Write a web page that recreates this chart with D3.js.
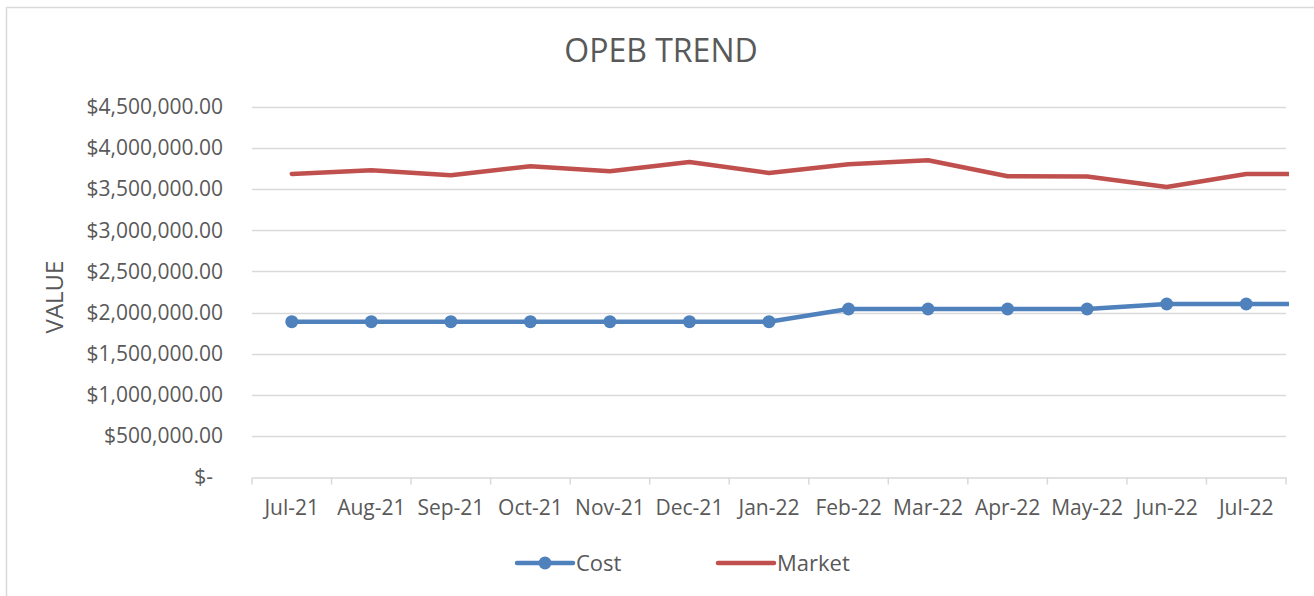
<!DOCTYPE html>
<html>
<head>
<meta charset="utf-8">
<script src="https://cdn.jsdelivr.net/npm/d3@7.9.0/dist/d3.min.js"></script>
<style>
  body { margin: 0; background: #fff; }
  svg { display: block; }
  svg text { font-family: "Open Sans", "Liberation Sans", sans-serif; }
  .tick text { fill: #595959; }
</style>
</head>
<body>
<svg id="chart" width="1314" height="596"></svg>
<script>
// -------------------------
// Data
// -------------------------
const months = ['Jul-21', 'Aug-21', 'Sep-21', 'Oct-21', 'Nov-21', 'Dec-21', 'Jan-22',
  'Feb-22', 'Mar-22', 'Apr-22', 'May-22', 'Jun-22', 'Jul-22'];
// the series run one month past the visible axis (cut off at the plot edge)
const extraMonth = 'Aug-22';
const cost = [1889000, 1889000, 1889000, 1889000, 1889000, 1889000, 1889000,
  2043000, 2043000, 2043000, 2043000, 2104000, 2104000, 2104000];
const market = [3686000, 3731000, 3670000, 3780000, 3719000, 3832000, 3698000,
  3804000, 3852000, 3658000, 3655000, 3528000, 3686000, 3686000];
const yTicks = [0, 500000, 1000000, 1500000, 2000000, 2500000, 3000000, 3500000, 4000000, 4500000];

const blue = '#4f81bd';
const red = '#c0504d';
const grey = '#595959';
const gridColor = '#d9d9d9';

// -------------------------
// Layout
// -------------------------
const svg = d3.select('#chart');
const plotLeft = 252, plotRight = 1286, plotTop = 107, plotBottom = 477;
const step = (plotRight - plotLeft) / months.length;

const allMonths = months.concat([extraMonth]);
const x = d3.scaleBand()
  .domain(allMonths)
  .range([plotLeft, plotLeft + step * allMonths.length]);
const xc = (m) => x(m) + x.bandwidth() / 2;

const y = d3.scaleLinear().domain([0, 4500000]).range([plotBottom, plotTop]);

// chart border (right/bottom cropped)
svg.append('rect')
  .attr('x', 6.5).attr('y', 7.5)
  .attr('width', 1400).attr('height', 700)
  .attr('fill', 'none').attr('stroke', gridColor).attr('stroke-width', 1.5);

// title
svg.append('text')
  .attr('x', 661).attr('y', 62)
  .attr('text-anchor', 'middle')
  .attr('fill', grey)
  .style('font-size', '32px')
  .text('OPEB TREND');

// gridlines
svg.append('g')
  .selectAll('line')
  .data(yTicks.filter(d => d > 0))
  .join('line')
  .attr('x1', plotLeft).attr('x2', plotRight)
  .attr('y1', d => Math.round(y(d)) + 0.5).attr('y2', d => Math.round(y(d)) + 0.5)
  .attr('stroke', gridColor).attr('stroke-width', 1.5);

// y axis labels
const fmt = d3.format('$,.2f');
const yAxis = svg.append('g')
  .attr('transform', `translate(${plotLeft},0)`)
  .call(d3.axisLeft(y).tickValues(yTicks).tickSize(0).tickPadding(29)
    .tickFormat(d => d === 0 ? '$-' : fmt(d)));
yAxis.select('.domain').remove();
yAxis.selectAll('text').style('font-size', '21px');
// "$-" sits a bit left of the others, like the accounting format
yAxis.selectAll('.tick').filter(d => d === 0).select('text').attr('dx', -10);

// x axis
const xBand = d3.scaleBand().domain(months).range([plotLeft, plotRight]);
const xAxis = svg.append('g')
  .attr('transform', `translate(0,${Math.round(plotBottom) + 0.5})`)
  .call(d3.axisBottom(xBand).tickSize(0).tickPadding(23));
xAxis.select('.domain').attr('stroke', gridColor).attr('stroke-width', 1.5);
xAxis.selectAll('text').style('font-size', '21px');
// tick marks at category boundaries
xAxis.append('g')
  .selectAll('line')
  .data(d3.range(months.length + 1))
  .join('line')
  .attr('x1', i => plotLeft + i * xBand.step()).attr('x2', i => plotLeft + i * xBand.step())
  .attr('y1', 0).attr('y2', 7)
  .attr('stroke', gridColor).attr('stroke-width', 1.5);

// y axis title
svg.append('text')
  .attr('transform', `translate(63,${(plotTop + plotBottom) / 2 + 5}) rotate(-90)`)
  .attr('text-anchor', 'middle')
  .attr('fill', grey)
  .style('font-size', '24px')
  .text('VALUE');

// clip series at the plot edge
svg.append('clipPath').attr('id', 'plotClip')
  .append('rect')
  .attr('x', 0).attr('y', 0)
  .attr('width', plotRight + 3).attr('height', 596);

const line = d3.line()
  .x((d, i) => xc(allMonths[i]))
  .y(d => y(d));

const plot = svg.append('g').attr('clip-path', 'url(#plotClip)');

plot.append('path')
  .datum(market)
  .attr('d', line)
  .attr('fill', 'none').attr('stroke', red)
  .attr('stroke-width', 4.5).attr('stroke-linecap', 'round').attr('stroke-linejoin', 'round');

plot.append('path')
  .datum(cost)
  .attr('d', line)
  .attr('fill', 'none').attr('stroke', blue)
  .attr('stroke-width', 4.5).attr('stroke-linecap', 'round').attr('stroke-linejoin', 'round');

plot.append('g')
  .selectAll('circle')
  .data(cost.slice(0, months.length))
  .join('circle')
  .attr('cx', (d, i) => xc(months[i]))
  .attr('cy', d => y(d))
  .attr('r', 6.5)
  .attr('fill', blue);

// -------------------------
// Legend
// -------------------------
const legend = svg.append('g').attr('transform', 'translate(0,563)');
const legendItems = [
  { name: 'Cost', color: blue, marker: true, x: 517 },
  { name: 'Market', color: red, marker: false, x: 718 }
];
legendItems.forEach(item => {
  const g = legend.append('g').attr('transform', `translate(${item.x},0)`);
  g.append('line')
    .attr('x1', 0).attr('x2', 56)
    .attr('stroke', item.color).attr('stroke-width', 4.5).attr('stroke-linecap', 'round');
  if (item.marker) {
    g.append('circle').attr('cx', 28).attr('r', 6.5).attr('fill', item.color);
  }
  g.append('text')
    .attr('x', 59).attr('y', 8)
    .attr('fill', grey)
    .style('font-size', '22px')
    .text(item.name);
});
</script>
</body>
</html>
